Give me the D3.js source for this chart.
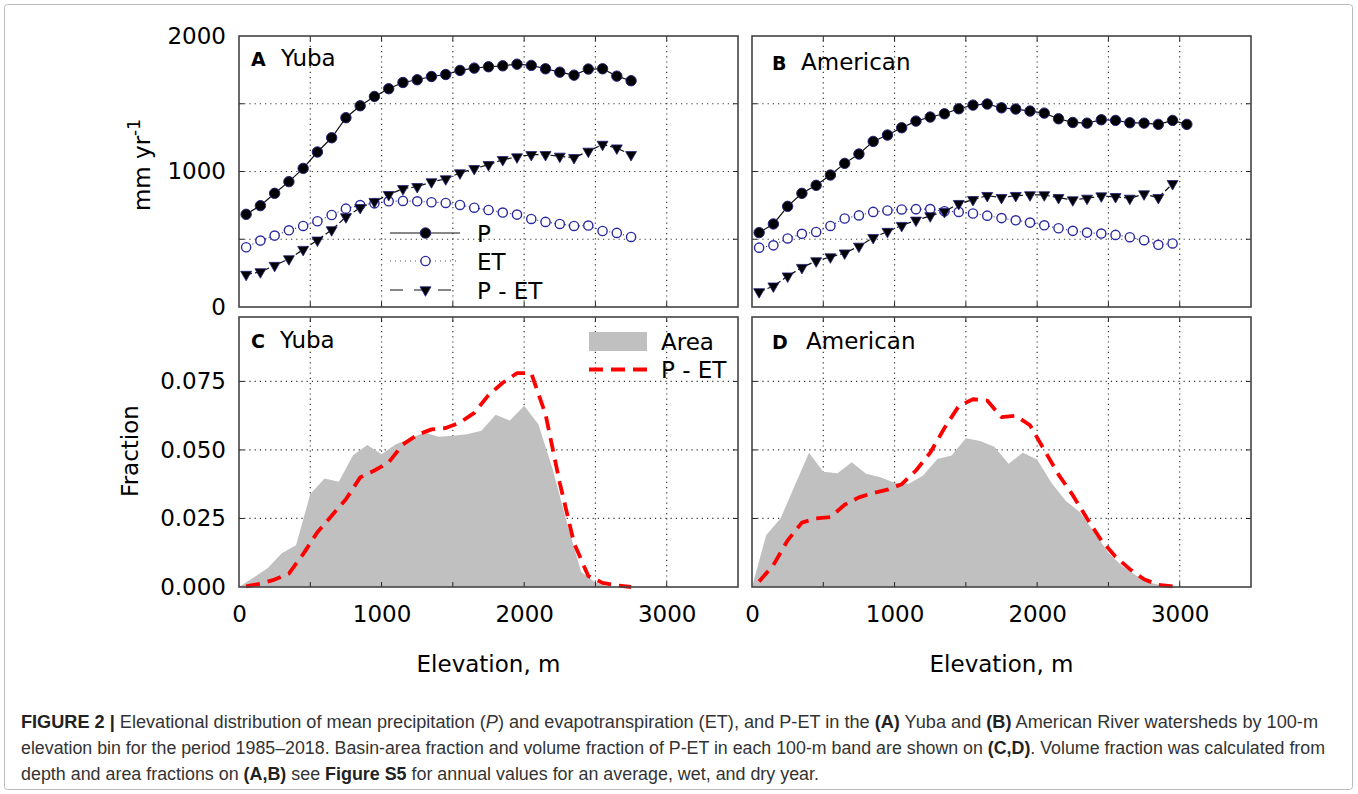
<!DOCTYPE html>
<html>
<head>
<meta charset="utf-8">
<script src="https://cdn.jsdelivr.net/npm/d3@7"></script>
<style>
body { margin: 0; background: #fff; }
svg text { font-family: "DejaVu Sans", sans-serif; fill: #000; }
.cap { font-family: "Liberation Sans Narrow", "Liberation Sans", Arial, sans-serif; font-size: 17.5px; fill: #333; }
</style>
</head>
<body>
<script>
// elevation bins (m)
var yubaElev = [50,150,250,350,450,550,650,750,850,950,1050,1150,1250,1350,1450,1550,1650,1750,1850,1950,2050,2150,2250,2350,2450,2550,2650,2750];
var amerElevP = [50,150,250,350,450,550,650,750,850,950,1050,1150,1250,1350,1450,1550,1650,1750,1850,1950,2050,2150,2250,2350,2450,2550,2650,2750,2850,2950,3050];
var amerElev = [50,150,250,350,450,550,650,750,850,950,1050,1150,1250,1350,1450,1550,1650,1750,1850,1950,2050,2150,2250,2350,2450,2550,2650,2750,2850,2950];

// mm/yr
var yubaP   = [684,748,839,925,1023,1144,1249,1397,1485,1554,1611,1657,1677,1701,1716,1746,1763,1773,1780,1792,1783,1758,1733,1711,1756,1758,1704,1670];
var yubaET  = [441,490,527,566,598,633,679,726,752,765,780,783,780,773,768,753,733,716,697,682,650,628,613,598,601,561,547,517];
var yubaPET = [240,259,306,355,424,493,569,665,733,778,829,873,888,923,945,989,1021,1050,1087,1107,1124,1124,1112,1102,1149,1200,1173,1124];
var amerP   = [549,613,743,839,898,974,1060,1129,1222,1269,1323,1372,1402,1426,1463,1490,1498,1470,1461,1446,1431,1389,1362,1357,1382,1377,1360,1357,1348,1377,1348];
var amerET  = [438,455,506,540,554,598,653,676,702,712,720,722,723,707,702,690,674,656,640,623,603,581,562,549,542,532,515,493,459,469];
var amerPET = [112,154,228,291,340,369,398,448,512,557,601,640,672,704,763,792,822,807,822,827,827,807,790,802,819,814,802,834,807,910];

// fractions
var yubaAreaElev = [0,100,200,300,400,500,600,700,800,900,1000,1100,1200,1300,1400,1500,1600,1700,1800,1900,2000,2100,2200,2300,2400,2500,2600];
var yubaArea = [0.0000,0.0034,0.0068,0.0123,0.0152,0.0339,0.0396,0.0384,0.0481,0.0518,0.0484,0.0521,0.0542,0.0564,0.0548,0.0552,0.0557,0.0570,0.0628,0.0607,0.0661,0.0594,0.0430,0.0235,0.0055,0.0016,0.0000];
var amerAreaElev = [0,100,200,300,400,500,600,700,800,900,1000,1100,1200,1300,1400,1500,1600,1700,1800,1900,2000,2100,2200,2300,2400,2500,2600,2700,2800,2900,3000];
var amerArea = [0.000,0.019,0.025,0.037,0.049,0.042,0.0415,0.0455,0.0413,0.040,0.038,0.0377,0.0407,0.0467,0.048,0.0543,0.0533,0.0512,0.045,0.049,0.0465,0.038,0.0315,0.0273,0.020,0.0125,0.0075,0.004,0.0015,0.0003,0.000];
var yubaVol = [0.0002,0.0012,0.0027,0.0049,0.012,0.020,0.026,0.032,0.040,0.0425,0.0455,0.052,0.0555,0.0575,0.058,0.060,0.0635,0.070,0.0745,0.078,0.078,0.063,0.038,0.016,0.004,0.0015,0.0006,0.0000];
var amerVol = [0.002,0.008,0.017,0.0235,0.025,0.0255,0.030,0.0327,0.0343,0.0355,0.0375,0.0425,0.049,0.058,0.066,0.0685,0.068,0.062,0.0625,0.059,0.050,0.041,0.0335,0.025,0.017,0.011,0.0065,0.0028,0.0008,0.0002];

var xTickLabels = [0, 1000, 2000, 3000];
var xGrid = [500, 1000, 1500, 2000, 2500, 3000];
var topYTickLabels = [0, 1000, 2000];
var topYGrid = [500, 1000, 1500];
var botYTickLabels = [0, 0.025, 0.05, 0.075];
var botYGrid = [0.025, 0.05, 0.075];
var legendTop = ["P", "ET", "P - ET"];
var legendBot = ["Area", "P - ET"];

var navy = "#23237a", blue = "#2a2aa0", red = "#ff0000";

var svg = d3.select("body").append("svg")
	.attr("width", 1358)
	.attr("height", 794);

svg.append("rect")
	.attr("x", 4.5).attr("y", 4.5)
	.attr("width", 1348).attr("height", 785)
	.attr("rx", 3)
	.style("fill", "none").style("stroke", "#bbb");

var panels = [
	{ x0: 239, top: true,  letter: "A", name: "Yuba",     lx: 251, nx: 281, ly: 66 },
	{ x0: 752, top: true,  letter: "B", name: "American", lx: 772, nx: 801, ly: 70 },
	{ x0: 239, top: false, letter: "C", name: "Yuba",     lx: 251, nx: 280, ly: 348 },
	{ x0: 752, top: false, letter: "D", name: "American", lx: 772, nx: 806, ly: 349 }
];

var pw = 499;

panels.forEach(function (p) {
	p.x = d3.scaleLinear().domain([0, 3500]).range([p.x0, p.x0 + pw]);
	if (p.top) {
		p.y = d3.scaleLinear().domain([0, 2000]).range([307, 36]);
		p.yGrid = topYGrid;
	} else {
		p.y = d3.scaleLinear().domain([0, 0.0985]).range([587, 317]);
		p.yGrid = botYGrid;
	}
	var g = svg.append("g");
	p.g = g;
	var y0 = p.y.range()[0], y1 = p.y.range()[1];

	// dotted grid
	g.selectAll("line.vg").data(xGrid).enter().append("line")
		.attr("x1", function (d) { return p.x(d); })
		.attr("x2", function (d) { return p.x(d); })
		.attr("y1", y0).attr("y2", y1)
		.style("stroke", "#333").style("stroke-width", 1.2).style("stroke-dasharray", "1.2,4");
	g.selectAll("line.hg").data(p.yGrid).enter().append("line")
		.attr("y1", function (d) { return p.y(d); })
		.attr("y2", function (d) { return p.y(d); })
		.attr("x1", p.x0).attr("x2", p.x0 + pw)
		.style("stroke", "#333").style("stroke-width", 1.2).style("stroke-dasharray", "1.2,4");
});

function drawTop(p, elevP, P, elevE, ET, PET) {
	var g = p.g;
	var line = function (xs) {
		return d3.line().x(function (d, i) { return p.x(xs[i]); }).y(function (d) { return p.y(d); });
	};
	g.append("path").attr("d", line(elevE)(ET))
		.style("fill", "none").style("stroke", blue).style("stroke-width", 1.1).style("stroke-dasharray", "1,2.5");
	g.append("path").attr("d", line(elevE)(PET))
		.style("fill", "none").style("stroke", "#111").style("stroke-width", 1.2).style("stroke-dasharray", "6,3");
	g.append("path").attr("d", line(elevP)(P))
		.style("fill", "none").style("stroke", "#111").style("stroke-width", 1.2);

	g.selectAll("circle.et").data(ET).enter().append("circle")
		.attr("cx", function (d, i) { return p.x(elevE[i]); })
		.attr("cy", function (d) { return p.y(d); })
		.attr("r", 4.6)
		.style("fill", "#fff").style("stroke", blue).style("stroke-width", 1.4);
	g.selectAll("path.tri").data(PET).enter().append("path")
		.attr("d", d3.symbol(d3.symbolTriangle).size(52))
		.attr("transform", function (d, i) { return "translate(" + p.x(elevE[i]) + "," + p.y(d) + ") rotate(180)"; })
		.style("fill", "#000").style("stroke", navy).style("stroke-width", 0.8);
	g.selectAll("circle.p").data(P).enter().append("circle")
		.attr("cx", function (d, i) { return p.x(elevP[i]); })
		.attr("cy", function (d) { return p.y(d); })
		.attr("r", 5.2)
		.style("fill", "#000").style("stroke", navy).style("stroke-width", 1);
}

function drawBot(p, elevA, A, elevV, V) {
	var g = p.g;
	var area = d3.area()
		.x(function (d, i) { return p.x(elevA[i]); })
		.y0(p.y(0))
		.y1(function (d) { return p.y(d); });
	g.append("path").attr("d", area(A)).style("fill", "#c0c0c0");
	var line = d3.line().x(function (d, i) { return p.x(elevV[i]); }).y(function (d) { return p.y(d); });
	g.append("path").attr("d", line(V))
		.style("fill", "none").style("stroke", red).style("stroke-width", 3.8)
		.style("stroke-dasharray", "14,8").style("stroke-linejoin", "round");
}

drawTop(panels[0], yubaElev, yubaP, yubaElev, yubaET, yubaPET);
drawTop(panels[1], amerElevP, amerP, amerElev, amerET, amerPET);
drawBot(panels[2], yubaAreaElev, yubaArea, yubaElev, yubaVol);
drawBot(panels[3], amerAreaElev, amerArea, amerElev, amerVol);

// frames, inner ticks, panel labels
panels.forEach(function (p) {
	var g = p.g;
	var y0 = p.y.range()[0], y1 = p.y.range()[1];
	g.selectAll("line.xt").data(xGrid).enter().append("line")
		.attr("x1", function (d) { return p.x(d); }).attr("x2", function (d) { return p.x(d); })
		.attr("y1", y0).attr("y2", y0 - 5)
		.style("stroke", "#222").style("stroke-width", 1);
	g.selectAll("line.xt2").data(xGrid).enter().append("line")
		.attr("x1", function (d) { return p.x(d); }).attr("x2", function (d) { return p.x(d); })
		.attr("y1", y1).attr("y2", y1 + 5)
		.style("stroke", "#222").style("stroke-width", 1);
	g.selectAll("line.yt").data(p.yGrid).enter().append("line")
		.attr("y1", function (d) { return p.y(d); }).attr("y2", function (d) { return p.y(d); })
		.attr("x1", p.x0).attr("x2", p.x0 + 5)
		.style("stroke", "#222").style("stroke-width", 1);
	g.selectAll("line.yt2").data(p.yGrid).enter().append("line")
		.attr("y1", function (d) { return p.y(d); }).attr("y2", function (d) { return p.y(d); })
		.attr("x1", p.x0 + pw).attr("x2", p.x0 + pw - 5)
		.style("stroke", "#222").style("stroke-width", 1);
	g.append("rect")
		.attr("x", p.x0).attr("y", y1)
		.attr("width", pw).attr("height", y0 - y1)
		.style("fill", "none").style("stroke", "#444").style("stroke-width", 1.6);

	g.append("text").attr("x", p.lx).attr("y", p.ly)
		.style("font-size", "19px").style("font-weight", "bold").text(p.letter);
	g.append("text").attr("x", p.nx).attr("y", p.ly)
		.style("font-size", "23px").text(p.name);
});

// y tick labels (left panels only)
var yTopAxis = svg.append("g").attr("transform", "translate(239,0)")
	.call(d3.axisLeft(panels[0].y).tickValues(topYTickLabels).tickSize(0).tickPadding(13).tickFormat(d3.format("d")));
var yBotAxis = svg.append("g").attr("transform", "translate(239,0)")
	.call(d3.axisLeft(panels[2].y).tickValues(botYTickLabels).tickSize(0).tickPadding(13).tickFormat(d3.format(".3f")));
[yTopAxis, yBotAxis].forEach(function (a) {
	a.select(".domain").remove();
	a.selectAll("text").style("font-size", "23px").style("font-family", "DejaVu Sans");
});

// x tick labels
[panels[2], panels[3]].forEach(function (p) {
	var ax = svg.append("g").attr("transform", "translate(0,587)")
		.call(d3.axisBottom(p.x).tickValues(xTickLabels).tickSize(0).tickPadding(19).tickFormat(d3.format("d")));
	ax.select(".domain").remove();
	ax.selectAll("text").style("font-size", "23px").style("font-family", "DejaVu Sans");
	svg.append("text")
		.attr("x", p.x0 + pw / 2).attr("y", 672)
		.style("text-anchor", "middle").style("font-size", "23px")
		.text("Elevation, m");
});

// y axis titles
var yt = svg.append("text")
	.attr("transform", "translate(150,165) rotate(-90)")
	.style("text-anchor", "middle").style("font-size", "23px");
yt.append("tspan").text("mm yr");
yt.append("tspan").attr("dy", -10).style("font-size", "17px").text("-1");
svg.append("text")
	.attr("transform", "translate(138,451) rotate(-90)")
	.style("text-anchor", "middle").style("font-size", "23px")
	.text("Fraction");

// legend, panel A
var leg = svg.append("g");
var legY = [233, 261, 290];
legendTop.forEach(function (name, i) {
	var y = legY[i];
	var ln = leg.append("line").attr("x1", 390).attr("x2", 460).attr("y1", y).attr("y2", y)
		.style("stroke-width", 1.2);
	if (i === 0) {
		ln.style("stroke", "#111");
		leg.append("circle").attr("cx", 425.5).attr("cy", y).attr("r", 5.2)
			.style("fill", "#000").style("stroke", navy);
	} else if (i === 1) {
		ln.style("stroke", "#555").style("stroke-dasharray", "1,4");
		leg.append("circle").attr("cx", 425.5).attr("cy", y).attr("r", 4.6)
			.style("fill", "#fff").style("stroke", blue).style("stroke-width", 1.4);
	} else {
		ln.style("stroke", "#111").style("stroke-dasharray", "13,11");
		leg.append("path").attr("d", d3.symbol(d3.symbolTriangle).size(52))
			.attr("transform", "translate(425.5," + y + ") rotate(180)")
			.style("fill", "#000").style("stroke", navy).style("stroke-width", 0.8);
	}
	leg.append("text").attr("x", 477).attr("y", y + 8.5).style("font-size", "23px").text(name);
});

// legend, panel C
svg.append("rect").attr("x", 589).attr("y", 332).attr("width", 58).attr("height", 19).style("fill", "#c0c0c0");
svg.append("line").attr("x1", 589).attr("x2", 647).attr("y1", 369.5).attr("y2", 369.5)
	.style("stroke", red).style("stroke-width", 3.8).style("stroke-dasharray", "14,8");
svg.append("text").attr("x", 661).attr("y", 350).style("font-size", "23px").text(legendBot[0]);
svg.append("text").attr("x", 661).attr("y", 378).style("font-size", "23px").text(legendBot[1]);

// caption
var capLines = [
	{ y: 728, w: 1297, parts: [["FIGURE 2 |", "b"], [" Elevational distribution of mean precipitation (", ""], ["P", "i"], [") and evapotranspiration (ET), and P-ET in the ", ""], ["(A)", "b"], [" Yuba and ", ""], ["(B)", "b"], [" American River watersheds by 100-m", ""]] },
	{ y: 754, w: 1304, parts: [["elevation bin for the period 1985–2018. Basin-area fraction and volume fraction of P-ET in each 100-m band are shown on ", ""], ["(C,D)", "b"], [". Volume fraction was calculated from", ""]] },
	{ y: 780, w: 798, parts: [["depth and area fractions on ", ""], ["(A,B)", "b"], [" see ", ""], ["Figure S5", "b"], [" for annual values for an average, wet, and dry year.", ""]] }
];
capLines.forEach(function (l) {
	var t = svg.append("text").attr("class", "cap")
		.attr("x", 21).attr("y", l.y)
		.attr("textLength", l.w).attr("lengthAdjust", "spacingAndGlyphs");
	l.parts.forEach(function (pt) {
		var s = t.append("tspan").text(pt[0]);
		if (pt[1] === "b") s.style("font-weight", "bold").style("fill", "#222");
		if (pt[1] === "i") s.style("font-style", "italic");
	});
});
</script>
</body>
</html>
